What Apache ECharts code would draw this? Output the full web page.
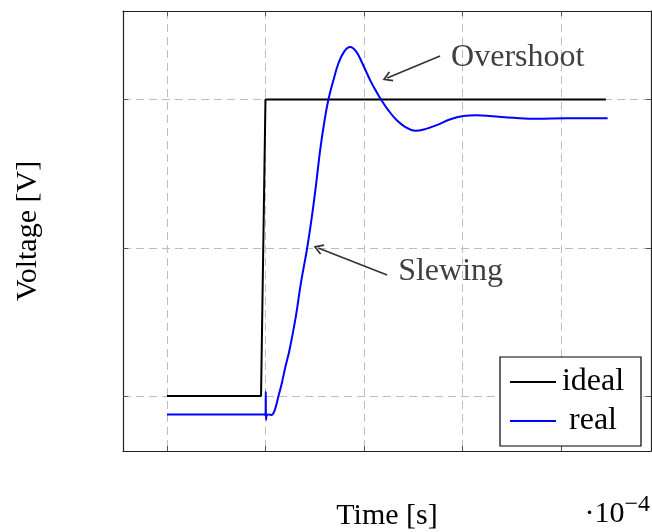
<!DOCTYPE html>
<html>
<head>
<meta charset="utf-8">
<script src="https://cdn.jsdelivr.net/npm/echarts@6/dist/echarts.min.js"></script>
<style>
  html, body { margin: 0; padding: 0; background: #fff; }
  #chart { width: 652px; height: 532px; }
</style>
</head>
<body>
<div id="chart"></div>
<script>
// Step response: ideal step vs. real amplifier output (time in units of 1e-4 s)
const timeIdeal = [0, 0.955, 1.0, 4.455];
const voltIdeal = [0, 0, 2, 2];

const timeReal = [0, 0.99, 1.0, 1.003, 1.006, 1.012, 1.035, 1.064, 1.085, 1.105, 1.132,
  1.166, 1.2, 1.244, 1.308, 1.359, 1.42, 1.471, 1.515, 1.555, 1.6, 1.639, 1.69, 1.74, 1.8,
  1.859, 1.92, 1.984, 2.062, 2.12, 2.173, 2.25, 2.333, 2.417, 2.518, 2.62, 2.738, 2.87,
  3.008, 3.144, 3.3, 3.515, 3.753, 4.057, 4.473];
const voltReal = [-0.124, -0.124, -0.13, 0.03, -0.16, -0.13, -0.125, -0.128, -0.11, -0.072,
  0.0, 0.086, 0.19, 0.31, 0.535, 0.76, 0.985, 1.21, 1.435, 1.659, 1.86, 2.0, 2.131, 2.243,
  2.325, 2.355, 2.325, 2.243, 2.131, 2.06, 2.0, 1.925, 1.86, 1.816, 1.789, 1.8, 1.827,
  1.865, 1.888, 1.893, 1.887, 1.877, 1.870, 1.874, 1.874];

// Tick positions (grid lines), no labels drawn
const xTicks = [0, 1, 2, 3, 4];
const yTicks = [0, 1, 2];

// Annotation anchors in data coordinates
const overshootNote = { text: 'Overshoot', tip: [2.235, 2.145], tail: [2.772, 2.293], at: [2.884, 2.28] };
const slewingNote = { text: 'Slewing', tip: [1.535, 0.998], tail: [2.235, 0.816], at: [2.347, 0.836] };

const FONT = 'Liberation Serif';
const FS = 30;
const FS_TEXT = 32;

const idealData = timeIdeal.map((t, i) => [t, voltIdeal[i]]);
const realData = timeReal.map((t, i) => [t, voltReal[i]]);

// open "->" style arrow head
const arrowHead = 'path://M5,0 L10,8 L8.7,9 L5,2.9 L1.3,9 L0,8 Z';

const gridLine = { show: true, lineStyle: { color: '#bdbdbd', width: 1, type: [8, 5] } };
const frameLine = { show: true, onZero: false, lineStyle: { color: '#222', width: 1.2 } };
const innerTick = (vals) => ({ show: true, inside: true, length: 5, customValues: vals, lineStyle: { color: '#555', width: 1 } });

function noteMarks(note) {
  return {
    line: [{ coord: note.tail }, { coord: note.tip }],
    point: {
      coord: note.at, symbol: 'circle', symbolSize: 0,
      itemStyle: { color: 'rgba(0,0,0,0)' },
      label: { show: true, position: 'right', distance: 0, formatter: note.text,
        color: '#404040', fontFamily: FONT, fontSize: FS_TEXT }
    }
  };
}
const n1 = noteMarks(overshootNote);
const n2 = noteMarks(slewingNote);

const chart = echarts.init(document.getElementById('chart'), null, { renderer: 'canvas' });
chart.setOption({
  animation: false,
  backgroundColor: '#fff',
  grid: { left: 123, top: 11, width: 528, height: 440, containLabel: false, outerBoundsMode: 'none' },
  xAxis: [
    { type: 'value', position: 'bottom', min: -0.446, max: 4.913,
      name: 'Time [s]', nameLocation: 'middle', nameGap: 50,
      nameTextStyle: { fontFamily: FONT, fontSize: FS, color: '#000' },
      axisLine: frameLine, axisTick: innerTick(xTicks),
      axisLabel: { show: false, customValues: xTicks }, splitLine: gridLine },
    { type: 'value', position: 'top', min: -0.446, max: 4.913,
      axisLine: frameLine, axisTick: innerTick(xTicks),
      axisLabel: { show: false, customValues: xTicks }, splitLine: { show: false } }
  ],
  yAxis: [
    { type: 'value', position: 'left', min: -0.371, max: 2.597,
      name: 'Voltage [V]', nameLocation: 'middle', nameGap: 80,
      nameTextStyle: { fontFamily: FONT, fontSize: FS, color: '#000' },
      axisLine: frameLine, axisTick: innerTick(yTicks),
      axisLabel: { show: false, customValues: yTicks }, splitLine: gridLine },
    { type: 'value', position: 'right', min: -0.371, max: 2.597,
      axisLine: frameLine, axisTick: innerTick(yTicks),
      axisLabel: { show: false, customValues: yTicks }, splitLine: { show: false } }
  ],
  legend: {
    orient: 'vertical', left: 500, top: 357,
    padding: [9, 16, 9, 10], itemGap: 7, itemWidth: 46, itemHeight: 2,
    icon: 'rect',
    borderColor: '#000', borderWidth: 1.2, backgroundColor: '#fff',
    data: ['ideal', 'real'],
    formatter: (name) => '{c|' + name + '}',
    textStyle: { rich: { c: { width: 64, align: 'center', fontFamily: FONT, fontSize: FS_TEXT, lineHeight: 30, color: '#000' } } }
  },
  series: [
    { name: 'ideal', type: 'line', data: idealData, showSymbol: false, symbol: 'none',
      lineStyle: { color: '#000', width: 2 }, itemStyle: { color: '#000' }, z: 3 },
    { name: 'real', type: 'line', data: realData, showSymbol: false, symbol: 'none',
      smooth: 0.4,
      lineStyle: { color: '#0000ff', width: 2 }, itemStyle: { color: '#0000ff' }, z: 4,
      markLine: {
        silent: true, symbol: ['none', arrowHead], symbolSize: [11, 10],
        lineStyle: { color: '#333', width: 1.6, type: 'solid' }, label: { show: false },
        data: [n1.line, n2.line]
      },
      markPoint: { silent: true, data: [n1.point, n2.point] }
    }
  ],
  graphic: [
    { type: 'text', right: 2, top: 493,
      style: { text: '{a|·10}{b|−4}', rich: {
        a: { fontFamily: FONT, fontSize: FS, color: '#000', verticalAlign: 'bottom', lineHeight: 36 },
        b: { fontFamily: FONT, fontSize: 24, color: '#000', verticalAlign: 'top', lineHeight: 36 } } } }
  ]
});
</script>
</body>
</html>
